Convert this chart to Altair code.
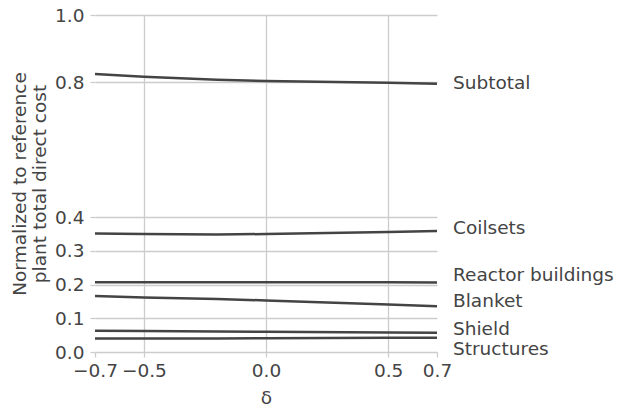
import altair as alt
import pandas as pd

delta = [-0.7, -0.5, -0.2, 0.0, 0.5, 0.7]
series = {
    "Subtotal":          [0.825, 0.817, 0.808, 0.804, 0.799, 0.796],
    "Coilsets":          [0.352, 0.350, 0.349, 0.350, 0.356, 0.359],
    "Reactor buildings": [0.207, 0.207, 0.207, 0.207, 0.207, 0.206],
    "Blanket":           [0.166, 0.162, 0.157, 0.153, 0.141, 0.136],
    "Shield":            [0.063, 0.062, 0.061, 0.060, 0.058, 0.057],
    "Structures":        [0.040, 0.040, 0.040, 0.041, 0.042, 0.042],
}
label_names = ["Subtotal", "Coilsets", "Reactor buildings", "Blanket", "Shield", "Structures"]
label_y = [0.798, 0.368, 0.228, 0.150, 0.069, 0.010]
x_ticks = [-0.7, -0.5, 0.0, 0.5, 0.7]
y_ticks = [0.0, 0.1, 0.2, 0.3, 0.4, 0.8, 1.0]

rows = []
for name, vals in series.items():
    for d, v in zip(delta, vals):
        rows.append({"series": name, "delta": d, "value": v})
df = pd.DataFrame(rows)
labels = pd.DataFrame({"series": label_names, "y": label_y, "x": [0.7] * len(label_names)})

FONT = "DejaVu Sans"
TXT = "#444444"
GRID = "#cccccc"
FS = 18.5

xscale = alt.Scale(domain=[-0.7, 0.7], nice=False, zero=False)
yscale = alt.Scale(domain=[0.0, 1.0], nice=False)

lines = alt.Chart(df).mark_line(color="#444444", strokeWidth=2.5).encode(
    x=alt.X("delta:Q", scale=xscale, title="δ",
            axis=alt.Axis(values=x_ticks, format=".1f", domain=False, tickColor=GRID,
                          tickSize=5, tickWidth=1.3, gridColor=GRID, gridWidth=1.3,
                          gridOpacity={"condition": {"test": "abs(datum.value) > 0.6", "value": 0}, "value": 1},
                          labelPadding=4, titlePadding=9, labelOverlap=False, labelBound=False,
                          labelFlush=False,
                          labelFont=FONT, labelFontSize=FS, labelColor=TXT,
                          titleFont=FONT, titleFontSize=FS, titleColor=TXT, titleFontWeight="normal")),
    y=alt.Y("value:Q", scale=yscale,
            title=["Normalized to reference", "plant total direct cost"],
            axis=alt.Axis(values=y_ticks, format=".1f", domain=False, tickColor=GRID,
                          tickSize=5, tickWidth=1.3, gridColor=GRID, gridWidth=1.3,
                          labelPadding=6, titlePadding=5, labelOverlap=False, labelFlush=False,
                          labelFont=FONT, labelFontSize=FS, labelColor=TXT,
                          titleFont=FONT, titleFontSize=FS, titleColor=TXT, titleFontWeight="normal",
                          titleLineHeight=20)),
    detail="series:N",
)

texts = alt.Chart(labels).mark_text(align="left", baseline="middle", dx=16,
                                    font=FONT, fontSize=FS, color=TXT).encode(
    x=alt.X("x:Q", scale=xscale),
    y=alt.Y("y:Q", scale=yscale),
    text="series:N",
)

chart = (lines + texts).properties(
    width=342, height=337,
    autosize=alt.AutoSizeParams(type="none"),
    padding={"left": 95, "top": 15, "right": 182, "bottom": 60},
    background="white",
).configure_view(stroke=None)

chart.save("out.html", embed_options={"renderer": "svg", "actions": False})
